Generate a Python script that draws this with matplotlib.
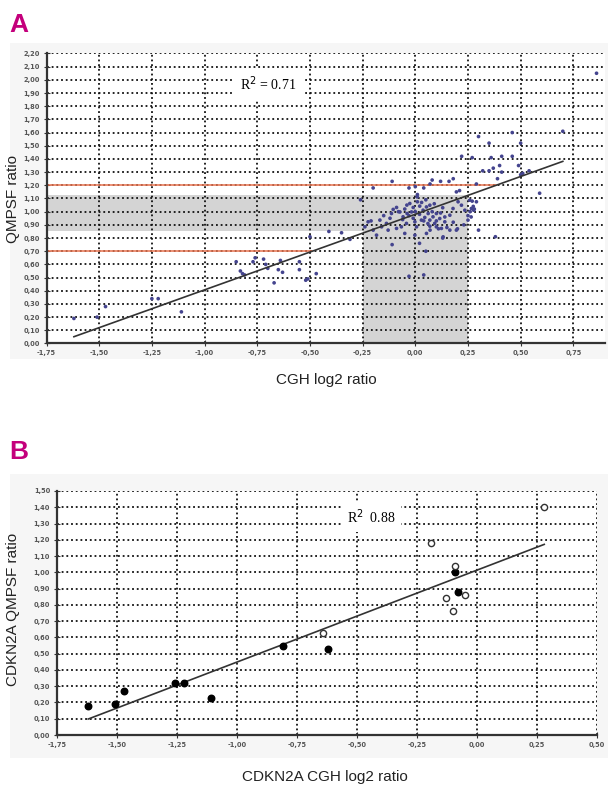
import numpy as np
import matplotlib
matplotlib.use("Agg")
import matplotlib.pyplot as plt
from matplotlib.patches import Rectangle
from matplotlib.ticker import FuncFormatter, MultipleLocator

### DATA ###

# Panel A : all probes, CGH log2 ratio vs QMPSF ratio
lowleft_x = [-1.62, -1.51, -1.47, -1.25, -1.22, -1.11, -0.85, -0.83, -0.82, -0.81, -0.77, -0.76, -0.72,
             -0.71, -0.70, -0.67, -0.64, -0.65, -0.63, -0.55, -0.55, -0.52, -0.51, -0.47, -0.50]
lowleft_y = [0.19, 0.20, 0.28, 0.34, 0.34, 0.24, 0.62, 0.55, 0.53, 0.52, 0.62, 0.65, 0.64,
             0.60, 0.57, 0.46, 0.63, 0.56, 0.54, 0.62, 0.56, 0.48, 0.49, 0.53, 0.81]

mid_x = [-0.41, -0.35, -0.31, -0.26, -0.21, -0.20, -0.11, -0.11, 0.02, 0.05, 0.13, -0.03, 0.04]
mid_y = [0.85, 0.84, 0.79, 1.09, 0.93, 1.18, 1.23, 0.75, 0.76, 0.70, 0.80, 0.51, 0.52]

redrow_x = [-0.03, 0.00, 0.04, 0.07, 0.08, 0.12, 0.16, 0.18, 0.29, 0.21]
redrow_y = [1.18, 1.19, 1.18, 1.21, 1.24, 1.23, 1.23, 1.25, 1.21, 1.16]

upright_x = [0.30, 0.35, 0.46, 0.50, 0.70, 0.86, 0.22, 0.27, 0.36, 0.41, 0.46, 0.32, 0.35, 0.37,
             0.40, 0.41, 0.49, 0.50, 0.54, 0.39, 0.51, 0.59]
upright_y = [1.57, 1.52, 1.60, 1.52, 1.61, 2.05, 1.42, 1.41, 1.41, 1.42, 1.42, 1.31, 1.31, 1.33,
             1.35, 1.30, 1.35, 1.28, 1.31, 1.25, 1.29, 1.14]

rightband_x = [0.27, 0.275, 0.26, 0.25, 0.28, 0.265, 0.23, 0.20, 0.30, 0.38]
rightband_y = [1.08, 1.04, 1.00, 0.97, 1.02, 0.96, 0.90, 0.87, 0.86, 0.81]

cluster_x = [-0.105, -0.089, -0.073, -0.113, -0.058, -0.039, -0.018, -0.010, -0.026, 0.010, 0.021, 0.009,
             0.037, 0.053, 0.069, 0.061, 0.045, 0.069, 0.084, 0.100, 0.116, 0.092, 0.069, 0.100, 0.124,
             0.029, -0.002, -0.042, -0.066, -0.089, -0.137, -0.168, -0.160, -0.200, -0.129, -0.050, 0.006,
             0.140, 0.164, 0.179, 0.203, 0.195, 0.219, 0.258, 0.266, 0.277, 0.290, 0.235, 0.250, 0.195,
             0.164, 0.053, 0.132, -0.002, -0.239, -0.224, -0.184,
             -0.08, -0.05, -0.03, 0.00, 0.02, 0.04, 0.06, 0.08, 0.10, 0.12, 0.14, 0.03, 0.05, -0.01,
             -0.06, 0.11, 0.15, 0.07, -0.12, -0.15, 0.18, 0.01, 0.09, -0.04, 0.13]
cluster_y = [1.017, 1.032, 0.998, 0.986, 0.961, 0.986, 0.998, 1.032, 1.062, 1.075, 1.042, 1.112,
             1.011, 1.036, 1.049, 0.986, 0.956, 0.936, 0.961, 0.986, 0.948, 0.911, 0.890, 0.885, 0.873,
             0.936, 0.923, 0.911, 0.885, 0.873, 0.911, 0.936, 0.885, 0.860, 0.860, 0.835, 0.885,
             0.923, 0.973, 1.024, 1.075, 1.150, 1.049, 1.087, 1.024, 1.011, 1.075, 1.011, 0.936, 0.860,
             0.860, 0.835, 0.809, 0.822, 0.885, 0.923, 0.822,
             1.00, 1.02, 0.97, 1.00, 0.98, 0.93, 0.91, 1.00, 0.93, 0.99, 0.96, 1.07, 1.09, 0.95,
             0.94, 0.87, 0.88, 0.86, 0.95, 0.97, 0.92, 1.13, 1.06, 1.05, 1.03]

a_x = np.array(lowleft_x + mid_x + redrow_x + upright_x + rightband_x + cluster_x)
a_y = np.array(lowleft_y + mid_y + redrow_y + upright_y + rightband_y + cluster_y)

# thresholds and normal zones of panel A
red_levels = [1.20, 0.70]
band_y = (0.85, 1.13)
band_x = (-0.25, 0.25)

# Panel B : CDKN2A
b_fill_x = [-1.62, -1.51, -1.47, -1.26, -1.22, -1.11, -0.81, -0.62, -0.09, -0.08]
b_fill_y = [0.18, 0.19, 0.27, 0.32, 0.32, 0.23, 0.55, 0.53, 1.00, 0.88]
b_open_x = [-0.64, 0.28, -0.19, -0.09, -0.05, -0.13, -0.10]
b_open_y = [0.63, 1.40, 1.18, 1.04, 0.86, 0.84, 0.76]

### STYLE ###
sans = ['Liberation Sans Narrow', 'Liberation Sans', 'DejaVu Sans']
serif = ['Liberation Serif', 'DejaVu Serif']
magenta = '#c4007c'
dotcol = '#44448e'
comma = FuncFormatter(lambda v, p: ('%.2f' % v).replace('.', ','))


def style_axes(ax, xlim, ylim, ystep):
    ax.set_xlim(*xlim)
    ax.set_ylim(*ylim)
    ax.xaxis.set_major_locator(MultipleLocator(0.25))
    ax.yaxis.set_major_locator(MultipleLocator(ystep))
    ax.xaxis.set_major_formatter(comma)
    ax.yaxis.set_major_formatter(comma)
    ax.set_axisbelow(True)
    ax.grid(True, color='#111111', linestyle=(0, (1, 1.6)), linewidth=1.3)
    for s in ['top', 'right']:
        ax.spines[s].set_visible(False)
    for s in ['left', 'bottom']:
        ax.spines[s].set_color('#333333')
        ax.spines[s].set_linewidth(1.6)
    ax.tick_params(direction='inout', length=4, width=0.8, color='#333333',
                   labelsize=4.8, labelcolor='#555555', pad=3)
    for lab in ax.get_xticklabels() + ax.get_yticklabels():
        lab.set_fontweight('bold')


fig = plt.figure(figsize=(6.08, 7.90), dpi=100)

# light chart-area backgrounds
fig.patches.append(Rectangle((0.016, 0.545), 0.984, 0.400, transform=fig.transFigure,
                             facecolor='#f6f6f6', edgecolor='none', zorder=-1))
fig.patches.append(Rectangle((0.016, 0.040), 0.984, 0.360, transform=fig.transFigure,
                             facecolor='#f6f6f6', edgecolor='none', zorder=-1))

### PANEL A ###
ax1 = fig.add_axes([0.0765, 0.5652, 0.9185, 0.3671])
style_axes(ax1, (-1.75, 0.90), (0.0, 2.20), 0.10)
ax1.set_xticks(np.arange(-1.75, 0.76, 0.25))
ax1.set_facecolor('white')

ax1.fill_between([-1.75, band_x[1]], band_y[0], band_y[1], color='#d4d4d4', lw=0, zorder=0.2)
ax1.fill_between(list(band_x), 0, band_y[0], color='#d4d4d4', lw=0, zorder=0.2)

m1, b1 = np.polyfit(a_x, a_y, 1)
for lev in red_levels:
    ax1.plot([-1.75, (lev - b1) / m1], [lev, lev], color='#e8734f', lw=1.1, zorder=2)

ax1.scatter(a_x, a_y, s=7, color=dotcol, edgecolors='none', zorder=3)
# trend line drawn over the labelled part of the x range
xf = np.array([a_x.min(), a_x[a_x <= 0.75].max()])
ax1.plot(xf, m1 * xf + b1, color='#333333', lw=1.2, zorder=4)

ax1.text(-0.70, 1.97, 'R$^2$ = 0.71', family=serif, fontsize=10, ha='center', va='center',
         bbox=dict(facecolor='white', edgecolor='none', pad=5), zorder=5)

fig.text(0.021, 0.748, 'QMPSF ratio', family=sans, fontsize=11, rotation=90,
         ha='center', va='center', color='#222222')
fig.text(0.537, 0.519, 'CGH log2 ratio', family=sans, fontsize=11,
         ha='center', va='center', color='#222222')
fig.text(0.016, 0.968, 'A', family=sans, fontsize=19, fontweight='bold', color=magenta,
         ha='left', va='center')

### PANEL B ###
ax2 = fig.add_axes([0.0938, 0.0696, 0.8882, 0.3089])
style_axes(ax2, (-1.75, 0.50), (0.0, 1.50), 0.10)
ax2.set_facecolor('white')

bx = np.array(b_fill_x + b_open_x)
by = np.array(b_fill_y + b_open_y)
m2, b2 = np.polyfit(bx, by, 1)
xf2 = np.array([bx.min(), bx.max()])
ax2.plot(xf2, m2 * xf2 + b2, color='#333333', lw=1.2, zorder=4)

ax2.scatter(b_fill_x, b_fill_y, s=22, color='black', edgecolors='black', zorder=5)
ax2.scatter(b_open_x, b_open_y, s=20, facecolors='white', edgecolors='#333333',
            linewidths=1.0, zorder=5)

ax2.text(-0.44, 1.34, 'R$^2$  0.88', family=serif, fontsize=10, ha='center', va='center',
         bbox=dict(facecolor='white', edgecolor='none', pad=4), zorder=5)

fig.text(0.021, 0.228, 'CDKN2A QMPSF ratio', family=sans, fontsize=11, rotation=90,
         ha='center', va='center', color='#222222')
fig.text(0.535, 0.017, 'CDKN2A CGH log2 ratio', family=sans, fontsize=11,
         ha='center', va='center', color='#222222')
fig.text(0.016, 0.428, 'B', family=sans, fontsize=19, fontweight='bold', color=magenta,
         ha='left', va='center')

fig.savefig('out.png', dpi=100)
